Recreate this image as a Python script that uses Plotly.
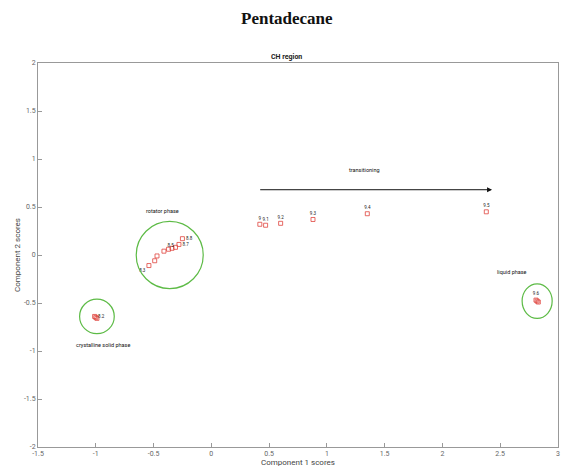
import plotly.graph_objects as go

# Data
trans_x = [0.42, 0.47, 0.60, 0.88, 1.35, 2.38]
trans_y = [0.32, 0.31, 0.33, 0.37, 0.43, 0.45]
trans_lbl = ["9", "9.1", "9.2", "9.3", "9.4", "9.5"]

rot_x = [-0.25, -0.28, -0.31, -0.34, -0.37, -0.41, -0.47, -0.49, -0.54]
rot_y = [0.17, 0.11, 0.08, 0.07, 0.06, 0.04, -0.01, -0.06, -0.11]
rot_lbl = ["8.8", "8.7", "", "", "", "8.5", "", "", "8.3"]

liq_x = [2.81, 2.82, 2.83]
liq_y = [-0.47, -0.48, -0.49]
liq_lbl = ["9.6", "", ""]

cry_x = [-1.01, -1.0, -0.99]
cry_y = [-0.64, -0.65, -0.66]
cry_lbl = ["8.2", "", ""]

x_ticks = [-1.5, -1, -0.5, 0, 0.5, 1, 1.5, 2, 2.5, 3]
x_tick_lbl = ["-1.5", "-1", "-0.5", "0", "0.5", "1", "1.5", "2", "2.5", "3"]
y_ticks = [-2, -1.5, -1, -0.5, 0, 0.5, 1, 1.5, 2]
y_tick_lbl = ["-2", "-1.5", "-1", "-0.5", "0", "0.5", "1", "1.5", "2"]

# ellipses: (cx, cy, rx, ry)
ellipses = [(-0.36, 0.0, 0.29, 0.35), (-0.99, -0.64, 0.15, 0.18), (2.82, -0.48, 0.13, 0.18)]
phase_labels = [("rotator phase", -0.42, 0.46), ("crystalline solid phase", -0.94, -0.94),
                ("liquid phase", 2.6, -0.18), ("transitioning", 1.33, 0.89)]
arrow = (0.41, 2.43, 0.68)

red = "#e0443e"
fig = go.Figure()

def add(xs, ys, lbls, pos):
    fig.add_trace(go.Scatter(x=xs, y=ys, mode="markers+text", text=lbls, textposition=pos,
                             marker=dict(symbol="square-open", size=4, color=red, line=dict(width=0.8)),
                             textfont=dict(size=4.5, color="#222", family="Roboto"),
                             showlegend=False, cliponaxis=False))

add(trans_x, trans_y, trans_lbl, "top center")
add(rot_x, rot_y, rot_lbl, ["middle right", "middle right", "top right", "top right", "top right",
                            "top right", "middle left", "middle left", "bottom left"])
add(liq_x, liq_y, liq_lbl, "top center")
add(cry_x, cry_y, cry_lbl, "middle right")

for cx, cy, rx, ry in ellipses:
    fig.add_shape(type="circle", xref="x", yref="y", x0=cx - rx, x1=cx + rx, y0=cy - ry, y1=cy + ry,
                  line=dict(color="#5dbb46", width=1.2))

for txt, x, y in phase_labels:
    fig.add_annotation(x=x, y=y, text=txt, showarrow=False,
                       font=dict(size=5.5, color="#111", family="Roboto"), xanchor="center")

fig.add_annotation(x=arrow[1], y=arrow[2], ax=arrow[0], ay=arrow[2], xref="x", yref="y",
                   axref="x", ayref="y", showarrow=True, arrowhead=2, arrowsize=1,
                   arrowwidth=1, arrowcolor="#111", text="")

fig.add_annotation(text="<b>Pentadecane</b>", xref="paper", yref="paper", x=0.478, y=1.117,
                   yanchor="middle", xanchor="center", showarrow=False,
                   font=dict(size=17, family="Liberation Serif", color="#111"))
fig.add_annotation(text="<b>CH region</b>", xref="paper", yref="paper", x=0.478, y=1, yanchor="bottom",
                   yshift=0, showarrow=False, font=dict(size=7, family="Roboto", color="#222"))
fig.add_annotation(text="Component 1 scores", xref="paper", yref="paper", x=0.5, y=0,
                   yanchor="middle", yshift=-15, showarrow=False,
                   font=dict(size=8, color="#444", family="Roboto"))

axis_common = dict(showline=True, mirror=True, linecolor="#999", linewidth=1, ticks="inside",
                   ticklen=4, tickcolor="#999", showgrid=False, zeroline=False, automargin=False,
                   tickfont=dict(size=7, color="#666", family="Roboto"))
fig.update_xaxes(range=[-1.5, 3.0005], tickmode="array", tickvals=x_ticks, ticktext=x_tick_lbl,
                 **axis_common)
fig.update_yaxes(range=[-2, 2], tickmode="array", tickvals=y_ticks, ticktext=y_tick_lbl,
                 title=dict(text="Component 2 scores", standoff=2,
                 font=dict(size=8, color="#444", family="Roboto")), **axis_common)

fig.update_layout(width=553, height=458, margin=dict(l=30, r=3, t=55, b=19, autoexpand=False),
                  plot_bgcolor="white", paper_bgcolor="white")
fig.write_html("out.html")
